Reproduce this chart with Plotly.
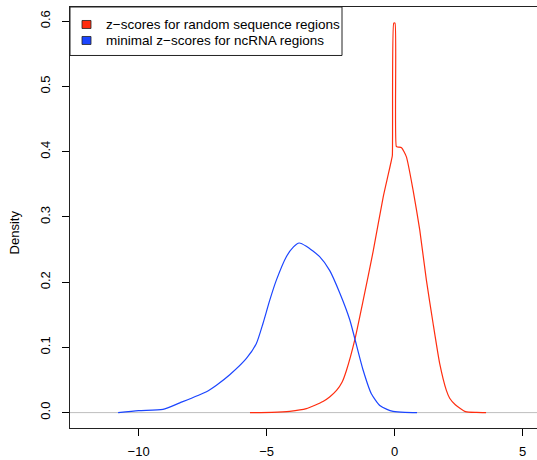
import plotly.graph_objects as go

# ---- data ----
red_x = [-5.65, -4.8, -4.10, -3.45, -2.80, -2.54, -2.27, -2.05, -1.88, -1.56, -1.23, -0.84,
         -0.45, -0.25, -0.125, -0.09, -0.035, 0.015, 0.065, 0.13, 0.27, 0.46, 0.72, 0.98,
         1.24, 1.50, 1.76, 2.02, 2.15, 2.37, 2.77, 3.2, 3.57]
red_y = [0.0, 0.0005, 0.002, 0.006, 0.017, 0.024, 0.034, 0.047, 0.065, 0.111, 0.172, 0.247,
         0.330, 0.365, 0.387, 0.394, 0.597, 0.597, 0.408, 0.407, 0.406, 0.392, 0.341, 0.28,
         0.203, 0.137, 0.075, 0.034, 0.022, 0.012, 0.0015, 0.0003, 0.0]

blue_x = [-10.80, -10.0, -9.05, -8.39, -7.35, -6.96, -6.44, -5.79, -5.40, -5.14, -4.88,
          -4.62, -4.23, -3.95, -3.73, -3.45, -2.93, -2.54, -2.14, -1.75, -1.56, -1.23,
          -0.91, -0.58, -0.30, -0.06, 0.4, 0.875]
blue_y = [0.0, 0.003, 0.005, 0.015, 0.032, 0.042, 0.058, 0.083, 0.106, 0.137, 0.172,
          0.203, 0.239, 0.254, 0.260, 0.255, 0.239, 0.218, 0.183, 0.142, 0.114, 0.065,
          0.029, 0.011, 0.005, 0.002, 0.0003, 0.0]

x_ticks = [-10, -5, 0, 5]
y_ticks = [0.0, 0.1, 0.2, 0.3, 0.4, 0.5, 0.6]
y_tick_text = ["0.0", "0.1", "0.2", "0.3", "0.4", "0.5", "0.6"]
legend_labels = ["z\u2212scores for random sequence regions",
                 "minimal z\u2212scores for ncRNA regions"]

RED = "#FF2D0F"
BLUE = "#1B45FF"
FONT = "Liberation Sans, Arial, sans-serif"

W, H = 537, 460
L, R_, T, B = 70, 537, 6.5, 427.7   # plot area in pixels


def px_x(px):
    return (px - L) / (R_ - L)


def px_y(py):
    return (B - py) / (B - T)


fig = go.Figure()
fig.add_trace(go.Scatter(x=red_x, y=red_y, mode="lines",
                         line=dict(color=RED, width=1.2, shape="spline", smoothing=0.5),
                         showlegend=False))
fig.add_trace(go.Scatter(x=blue_x, y=blue_y, mode="lines",
                         line=dict(color=BLUE, width=1.2, shape="spline", smoothing=0.6),
                         showlegend=False))

shapes = []
# grey zero line
shapes.append(dict(type="line", xref="paper", yref="y", x0=0, x1=1, y0=0, y1=0,
                   line=dict(color="#BEBEBE", width=1), layer="below"))
# legend box
shapes.append(dict(type="rect", xref="paper", yref="paper",
                   x0=px_x(70), x1=px_x(342), y0=px_y(55), y1=px_y(6.5),
                   line=dict(color="#222222", width=1), fillcolor="white"))
annotations = []
for i, (lab, col) in enumerate(zip(legend_labels, [RED, BLUE])):
    cy = 24 + 16 * i
    shapes.append(dict(type="rect", xref="paper", yref="paper",
                       x0=px_x(82), x1=px_x(91), y0=px_y(cy + 4), y1=px_y(cy - 4),
                       line=dict(color="#222222", width=0.8), fillcolor=col))
    annotations.append(dict(text=lab, xref="paper", yref="paper", x=px_x(104), y=px_y(cy),
                            xanchor="left", yanchor="middle", showarrow=False,
                            font=dict(family=FONT, size=13.5, color="black")))

annotations.append(dict(text="Density", xref="paper", yref="paper", x=px_x(14), y=px_y(232),
                        xanchor="center", yanchor="middle", textangle=-90, showarrow=False,
                        font=dict(family=FONT, size=13, color="black")))

fig.update_layout(
    width=W, height=H,
    margin=dict(l=L, r=W - R_, t=T, b=H - B),
    plot_bgcolor="white", paper_bgcolor="white",
    shapes=shapes, annotations=annotations,
    font=dict(family=FONT, size=13, color="black"),
    xaxis=dict(range=[-12.68, 5.56], tickvals=x_ticks, ticks="outside", ticklen=7,
               tickcolor="black", tickwidth=1, showgrid=False, zeroline=False,
               showline=True, linecolor="#222222", linewidth=1, mirror=True,
               ticklabelstandoff=4,
               tickfont=dict(family=FONT, size=13, color="black")),
    yaxis=dict(range=[-0.0236, 0.6217], tickvals=y_ticks, ticktext=y_tick_text,
               ticks="outside", ticklen=7, tickcolor="black", tickwidth=1,
               tickangle=-90, showgrid=False, zeroline=False,
               showline=True, linecolor="#222222", linewidth=1, mirror=False,
               ticklabelstandoff=7,
               tickfont=dict(family=FONT, size=13, color="black")),
)

fig.write_html("out.html")
